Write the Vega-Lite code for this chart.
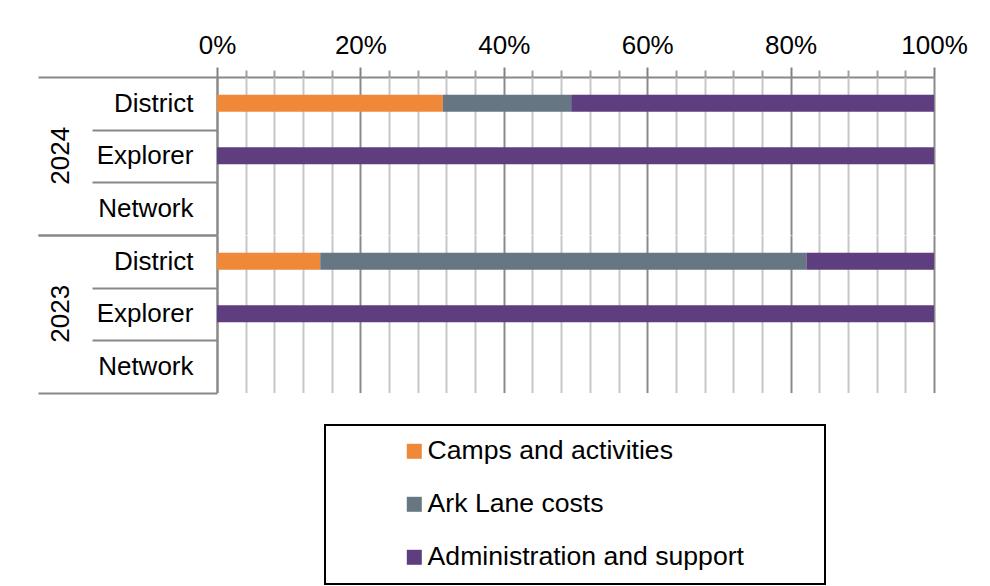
{
  "$schema": "https://vega.github.io/schema/vega-lite/v6.json",
  "autosize": {"type": "pad"},
  "padding": {"left": 37, "top": 32, "right": 0, "bottom": 0},
  "background": "white",
  "config": {
    "view": {"stroke": null},
    "font": "Liberation Sans",
    "legend": {"strokeWidth": 2}
  },
  "data": {
    "values": [
      {"year": "2024", "cat": "District", "series": "Camps and activities", "value": 0.315},
      {"year": "2024", "cat": "District", "series": "Ark Lane costs", "value": 0.179},
      {"year": "2024", "cat": "District", "series": "Administration and support", "value": 0.506},
      {"year": "2024", "cat": "Explorer", "series": "Administration and support", "value": 1.0},
      {"year": "2023", "cat": "District", "series": "Camps and activities", "value": 0.144},
      {"year": "2023", "cat": "District", "series": "Ark Lane costs", "value": 0.678},
      {"year": "2023", "cat": "District", "series": "Administration and support", "value": 0.178},
      {"year": "2023", "cat": "Explorer", "series": "Administration and support", "value": 1.0}
    ]
  },
  "transform": [
    {"calculate": "indexof(['Camps and activities','Ark Lane costs','Administration and support'], datum.series)", "as": "ord"}
  ],
  "facet": {
    "row": {
      "field": "year", "type": "nominal", "sort": "descending",
      "header": {"title": null, "labelAngle": -90, "labelOrient": "left", "labelFont": "Liberation Sans", "labelFontSize": 26, "labelColor": "black", "labelPadding": -50}
    }
  },
  "spacing": 0,
  "spec": {
    "width": 717,
    "height": 157.5,
    "mark": {"type": "bar", "height": {"band": 0.324}},
    "encoding": {
      "y": {
        "field": "cat", "type": "nominal",
        "scale": {"domain": ["District", "Explorer", "Network"], "paddingInner": 0, "paddingOuter": 0},
        "axis": {
          "title": null, "tickBand": "extent",
          "domainColor": "#888888", "domainWidth": 2,
          "tickColor": "#888888", "tickWidth": 2,
          "tickSize": {"condition": {"test": "!datum.value || datum.value == 'Network'", "value": 179}, "value": 125},
          "labelPadding": {"condition": {"test": "datum.value == 'Network'", "value": -155}, "value": -101},
          "labelFontSize": 26, "labelColor": "black", "labelFont": "Liberation Sans"
        }
      },
      "x": {
        "field": "value", "type": "quantitative", "stack": "zero",
        "scale": {"domain": [0, 1], "nice": false},
        "axis": {
          "orient": "top", "title": null,
          "values": [0, 0.04, 0.08, 0.12, 0.16, 0.2, 0.24, 0.28, 0.32, 0.36, 0.4, 0.44, 0.48, 0.52, 0.56, 0.6, 0.64, 0.68, 0.72, 0.76, 0.8, 0.84, 0.88, 0.92, 0.96, 1],
          "labelExpr": "round(datum.value*100) % 20 == 0 ? format(datum.value, '.0%') : ''",
          "labelFontSize": 26, "labelColor": "black", "labelFont": "Liberation Sans",
          "labelFlush": false, "labelOverlap": false, "labelPadding": 9,
          "domainColor": "#888888", "domainWidth": 2,
          "tickWidth": 2,
          "tickColor": {"condition": {"test": "round(datum.value*100) % 20 == 0", "value": "#808080"}, "value": "#a0a0a0"},
          "tickSize": {"condition": {"test": "round(datum.value*100) % 20 == 0", "value": 10}, "value": 7},
          "gridWidth": 2,
          "gridColor": {"condition": {"test": "round(datum.value*100) % 20 == 0", "value": "#8a8a8a"}, "value": "#c6c6c6"}
        }
      },
      "color": {
        "field": "series", "type": "nominal",
        "scale": {"domain": ["Camps and activities", "Ark Lane costs", "Administration and support"], "range": ["#F0883A", "#677683", "#5E3E7E"]},
        "legend": {
          "orient": "none", "legendX": 108, "legendY": 348,
          "title": "\u00a0", "titleOrient": "left", "titleFontSize": 26, "titlePadding": 63,
          "direction": "vertical", "symbolType": "square", "symbolSize": 225, "symbolStrokeWidth": 0,
          "labelFontSize": 26.6, "labelFont": "Liberation Sans", "labelColor": "black", "labelOffset": 0,
          "labelExpr": "datum.label + '\u00a0\u2800\u2800\u2800'",
          "labelLimit": 1000,
          "rowPadding": 26, "padding": 13, "strokeColor": "black"
        }
      },
      "order": {"field": "ord", "type": "quantitative"}
    }
  }
}
